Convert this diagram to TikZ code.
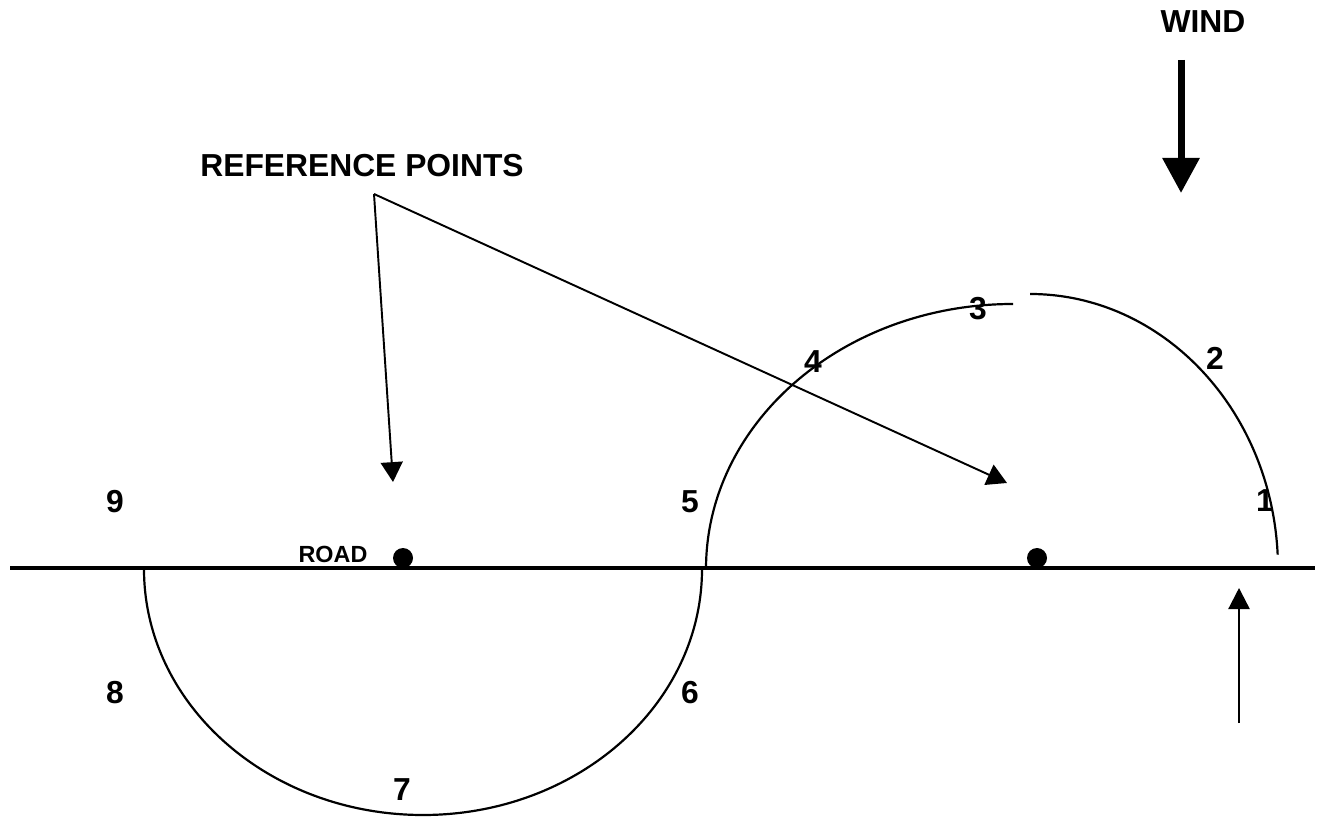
\documentclass[tikz,border=0pt]{standalone}
\usepackage{fontspec}
\setmainfont{Liberation Sans}
\usepackage{tikz}
\usetikzlibrary{arrows.meta}

\begin{document}
\begin{tikzpicture}[x=0.02cm, y=0.02cm,
        lbl/.style={inner sep=0pt, anchor=center,
                    font=\fontsize{18.1}{20}\selectfont\bfseries},
        small/.style={inner sep=0pt, anchor=center,
                      font=\fontsize{13.3}{15}\selectfont\bfseries},
        dot/.style={circle, fill=black, inner sep=0pt, minimum size=0.4cm},
        roadline/.style={line width=2pt},
        arcline/.style={line width=1.25pt},
        refarr/.style={-{Triangle[length=11.3pt, width=12.5pt]}, line width=1.1pt},
        windarr/.style={-{Triangle[length=20pt, width=20.4pt]}, line width=4pt},
        uparr/.style={-{Triangle[length=12pt, width=12pt]}, line width=1.3pt}
    ]
        \useasboundingbox (0,0) rectangle (1317,818);

        % road
        \coordinate (roadL) at (10,250);
        \coordinate (roadR) at (1315,250);
        \draw[roadline] (roadL) -- (roadR);
        \node[small] (road) at (333,264) {ROAD};
        \node[dot] (ptA) at (403,260) {};
        \node[dot] (ptB) at (1037,260) {};

        % course
        \draw[arcline] (144,249) arc[start angle=180, end angle=360, x radius=279, y radius=246];
        \draw[arcline] (706,249) arc[start angle=180, end angle=90, x radius=307, y radius=265];
        \draw[arcline] (1030,524) arc[start angle=90, end angle=3, x radius=248, y radius=275];

        % reference points
        \node[lbl] (refs) at (362,652) {REFERENCE POINTS};
        \coordinate (apex) at (374,624);
        \coordinate (tipA) at (393,336);
        \coordinate (tipB) at (1007,335);
        \draw[refarr] (apex) -- (tipA);
        \draw[refarr] (apex) -- (tipB);

        % wind
        \node[lbl] (wind) at (1203,796) {WIND};
        \coordinate (windS) at (1181,758);
        \coordinate (windE) at (1181,625);
        \draw[windarr] (windS) -- (windE);

        \coordinate (upS) at (1239,95);
        \coordinate (upE) at (1239,230);
        \draw[uparr] (upS) -- (upE);

        % numbers
        \node[lbl] (n1) at (1265,317) {1};
        \node[lbl] (n2) at (1215,460) {2};
        \node[lbl] (n3) at (978,509) {3};
        \node[lbl] (n4) at (813,456) {4};
        \node[lbl] (n5) at (690,316) {5};
        \node[lbl] (n6) at (690,125) {6};
        \node[lbl] (n7) at (402,28) {7};
        \node[lbl] (n8) at (115,125) {8};
        \node[lbl] (n9) at (115,316) {9};
\end{tikzpicture}
\end{document}
